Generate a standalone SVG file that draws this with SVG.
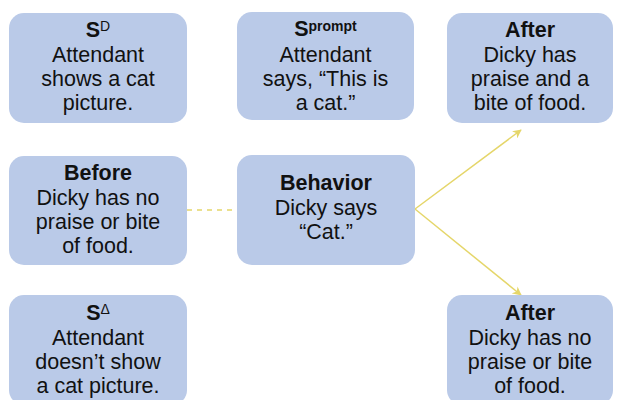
<svg xmlns="http://www.w3.org/2000/svg" width="623" height="400" viewBox="0 0 623 400">
  <style>
    .box { fill: #bacae8; }
    .t { font-family: "Liberation Sans", Arial, Helvetica, sans-serif; font-size: 21.5px; fill: #111; text-anchor: middle; }
    .b { font-weight: bold; }
    .sup { font-size: 14px; }
    .link { stroke: #e5d66a; stroke-width: 1.5; fill: none; }
  </style>
  <defs>
    <marker id="arrow" viewBox="0 0 10 10" refX="9" refY="5" markerWidth="9" markerHeight="9" orient="auto-start-reverse" markerUnits="userSpaceOnUse">
      <path d="M0,0 L10,5 L0,10 L3,5 Z" fill="#e5d66a"/>
    </marker>
  </defs>

  <rect width="623" height="400" fill="#ffffff"/>

  <g id="connectors">
    <line class="link" x1="187" y1="210" x2="237" y2="210" stroke-dasharray="5,5"/>
    <line class="link" x1="415" y1="209" x2="521" y2="130" marker-end="url(#arrow)"/>
    <line class="link" x1="415" y1="209" x2="521" y2="295" marker-end="url(#arrow)"/>
  </g>

  <g id="sd">
    <rect class="box" x="9" y="13" width="178" height="110" rx="15"/>
    <text class="t b" x="98" y="37">S<tspan class="sup" font-weight="normal" dy="-6">D</tspan></text>
    <text class="t" x="98" y="62">Attendant</text>
    <text class="t" x="98" y="86">shows a cat</text>
    <text class="t" x="98" y="110">picture.</text>
  </g>

  <g id="sprompt">
    <rect class="box" x="237" y="12" width="177" height="108" rx="15"/>
    <text class="t b" x="325.5" y="36">S<tspan class="sup" font-size="15px" dy="-5">prompt</tspan></text>
    <text class="t" x="325.5" y="62">Attendant</text>
    <text class="t" x="325.5" y="86">says, “This is</text>
    <text class="t" x="325.5" y="110">a cat.”</text>
  </g>

  <g id="after-praise">
    <rect class="box" x="447" y="13" width="166" height="110" rx="15"/>
    <text class="t b" x="530" y="37">After</text>
    <text class="t" x="530" y="62">Dicky has</text>
    <text class="t" x="530" y="86">praise and a</text>
    <text class="t" x="530" y="110">bite of food.</text>
  </g>

  <g id="before">
    <rect class="box" x="9" y="156" width="178" height="109" rx="15"/>
    <text class="t b" x="98" y="180">Before</text>
    <text class="t" x="98" y="205">Dicky has no</text>
    <text class="t" x="98" y="229">praise or bite</text>
    <text class="t" x="98" y="253">of food.</text>
  </g>

  <g id="behavior">
    <rect class="box" x="237" y="155" width="178" height="110" rx="15"/>
    <text class="t b" x="326" y="190">Behavior</text>
    <text class="t" x="326" y="215">Dicky says</text>
    <text class="t" x="326" y="239">“Cat.”</text>
  </g>

  <g id="sdelta">
    <rect class="box" x="9" y="295" width="178" height="110" rx="15"/>
    <text class="t b" x="98" y="320">S<tspan class="sup" font-weight="normal" dy="-6">Δ</tspan></text>
    <text class="t" x="98" y="345">Attendant</text>
    <text class="t" x="98" y="369">doesn’t show</text>
    <text class="t" x="98" y="393">a cat picture.</text>
  </g>

  <g id="after-none">
    <rect class="box" x="447" y="295" width="166" height="110" rx="15"/>
    <text class="t b" x="530" y="320">After</text>
    <text class="t" x="530" y="345">Dicky has no</text>
    <text class="t" x="530" y="369">praise or bite</text>
    <text class="t" x="530" y="393">of food.</text>
  </g>
</svg>
